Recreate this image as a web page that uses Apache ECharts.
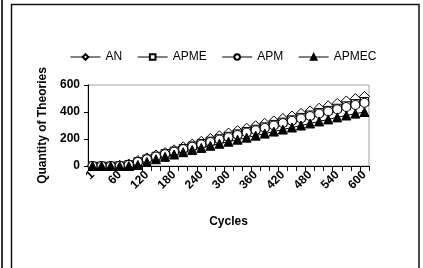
<!DOCTYPE html>
<html>
<head>
<meta charset="utf-8">
<script src="https://cdn.jsdelivr.net/npm/echarts@6/dist/echarts.min.js"></script>
<style>
  html, body { margin: 0; padding: 0; background: #fff; }
  #main { width: 423px; height: 268px; }
</style>
</head>
<body>
<div id="main"></div>
<script>
// cycles on the x axis (every 20 cycles)
const cycles = ['1', '20', '40', '60', '80', '100', '120', '140', '160', '180', '200',
  '220', '240', '260', '280', '300', '320', '340', '360', '380', '400',
  '420', '440', '460', '480', '500', '520', '540', '560', '580', '600']
const anData = [0, 0, 0, 5, 15, 40, 60, 82, 100, 120, 142, 162, 183, 204, 224, 244,
  262, 280, 298, 316, 334, 352, 370, 390, 408, 428, 446, 464, 482, 500, 515]
const apmeData = [0, 0, 0, 2, 10, 32, 52, 72, 92, 110, 130, 148, 166, 184, 202, 220,
  238, 255, 272, 290, 308, 325, 342, 360, 378, 396, 412, 428, 446, 462, 478]
const apmData = [0, 0, 0, 2, 8, 30, 50, 70, 88, 106, 125, 143, 160, 178, 196, 213,
  230, 248, 265, 282, 300, 318, 335, 352, 370, 388, 404, 420, 437, 452, 468]
const apmecData = [0, 0, 0, 0, 0, 8, 30, 50, 68, 85, 102, 118, 134, 150, 165, 180,
  195, 210, 225, 240, 255, 270, 285, 300, 315, 330, 345, 360, 374, 388, 400]
const yTicks = [0, 200, 400, 600]

const font = 'Liberation Sans, Arial, sans-serif'
const chart = echarts.init(document.getElementById('main'))

const mkSeries = (name, data, symbol, size, filled) => ({
  name,
  type: 'line',
  data,
  symbol,
  symbolSize: size,
  showAllSymbol: true,
  lineStyle: { color: '#000', width: 1 },
  itemStyle: { color: filled ? '#000' : '#fff', borderColor: '#000', borderWidth: 1 },
  emphasis: { disabled: true },
  animation: false
})

const option = {
  animation: false,
  graphic: [
    // outer page frames
    { type: 'line', shape: { x1: 2, y1: 0, x2: 2, y2: 268 }, style: { stroke: '#333', lineWidth: 2 } },
    { type: 'rect', shape: { x: 11.5, y: 4.5, width: 407.5, height: 300 }, style: { fill: 'none', stroke: '#111', lineWidth: 1.5 } }
  ],
  legend: {
    left: 65,
    top: 46,
    itemWidth: 30,
    itemHeight: 7,
    itemGap: 15,
    lineStyle: { width: 1, color: '#000' },
    textStyle: { fontFamily: font, fontSize: 12, color: '#000' },
    data: ['AN', 'APME', 'APM', 'APMEC']
  },
  grid: {
    left: 88,
    right: 54,
    top: 85,
    bottom: 102,
    show: true,
    borderColor: '#a0a0a0',
    borderWidth: 1
  },
  xAxis: {
    type: 'category',
    data: cycles,
    name: 'Cycles',
    nameLocation: 'middle',
    nameGap: 50,
    nameTextStyle: { fontFamily: font, fontSize: 12, fontWeight: 'bold', color: '#000' },
    axisLine: { lineStyle: { color: '#000', width: 1 } },
    axisTick: { show: true, interval: 0, length: 5, lineStyle: { color: '#000' } },
    axisLabel: {
      interval: 2,
      rotate: 45,
      margin: 7,
      fontFamily: font,
      fontSize: 12,
      fontWeight: 'bold',
      color: '#000'
    },
    splitLine: { show: false }
  },
  yAxis: {
    type: 'value',
    min: yTicks[0],
    max: yTicks[yTicks.length - 1],
    interval: 200,
    name: 'Quantity of Theories',
    nameLocation: 'middle',
    nameGap: 36,
    nameTextStyle: { fontFamily: font, fontSize: 12, fontWeight: 'bold', color: '#000' },
    axisLine: { show: true, lineStyle: { color: '#000', width: 1 } },
    axisTick: { show: true, length: 4, lineStyle: { color: '#000' } },
    axisLabel: { fontFamily: font, fontSize: 12, fontWeight: 'bold', color: '#000', margin: 8 },
    splitLine: { show: false }
  },
  series: [
    mkSeries('AN', anData, 'diamond', 10, false),
    mkSeries('APME', apmeData, 'rect', 8, false),
    mkSeries('APM', apmData, 'circle', 9, false),
    mkSeries('APMEC', apmecData, 'triangle', 9, true)
  ]
}

chart.setOption(option)
</script>
</body>
</html>
